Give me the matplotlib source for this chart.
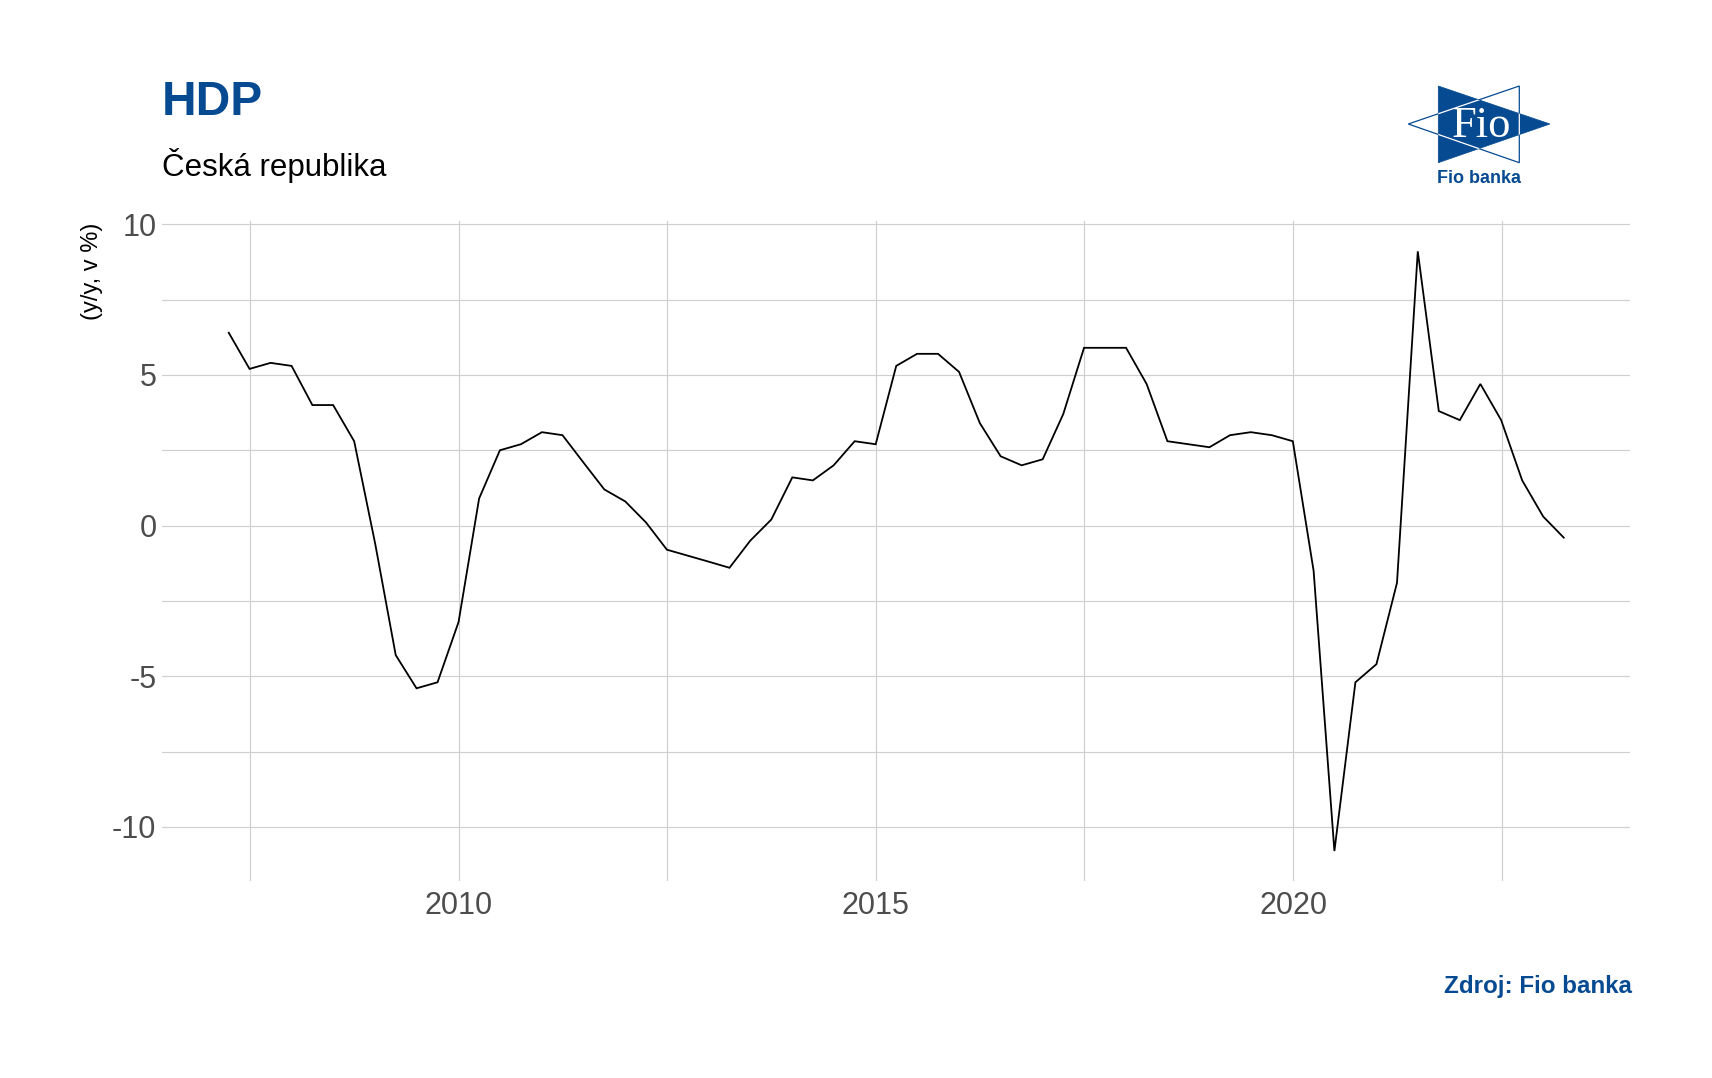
import matplotlib
matplotlib.use("Agg")
import matplotlib.pyplot as plt
import matplotlib.dates as mdates
from matplotlib.patches import Polygon
import pandas as pd

# ---- data (y/y GDP growth, Czech Republic, quarterly 2007Q1 - 2023Q1) ----
first_quarter = "2007Q1"
last_quarter = "2023Q1"
gdp_yy = [
    6.4, 5.2, 5.4, 5.3,      # 2007
    4.0, 4.0, 2.8, -0.6,     # 2008
    -4.3, -5.4, -5.2, -3.2,  # 2009
    0.9, 2.5, 2.7, 3.1,      # 2010
    3.0, 2.1, 1.2, 0.8,      # 2011
    0.1, -0.8, -1.0, -1.2,   # 2012
    -1.4, -0.5, 0.2, 1.6,    # 2013
    1.5, 2.0, 2.8, 2.7,      # 2014
    5.3, 5.7, 5.7, 5.1,      # 2015
    3.4, 2.3, 2.0, 2.2,      # 2016
    3.7, 5.9, 5.9, 5.9,      # 2017
    4.7, 2.8, 2.7, 2.6,      # 2018
    3.0, 3.1, 3.0, 2.8,      # 2019
    -1.5, -10.8, -5.2, -4.6, # 2020
    -1.9, 9.1, 3.8, 3.5,     # 2021
    4.7, 3.5, 1.5, 0.3,      # 2022
    -0.4,                    # 2023
]
y_ticks = [-10, -5, 0, 5, 10]
y_minor = [-7.5, -2.5, 2.5, 7.5]
x_major_years = [2010, 2015, 2020]
x_minor_years = [2007, 2012, 2017, 2022]  # mid-year minor grid

title = "HDP"
subtitle = "Česká republika"
y_label = "(y/y, v %)"
source = "Zdroj: Fio banka"

dates = pd.period_range(first_quarter, last_quarter, freq="Q").end_time.normalize()

BLUE = "#064a91"
GRID = "#cfcfcf"

plt.rcParams["font.family"] = ["Liberation Sans", "DejaVu Sans"]

W, H = 1712, 1078
fig = plt.figure(figsize=(W / 100, H / 100), dpi=100)
fig.patch.set_facecolor("white")

ax = fig.add_axes([162 / W, 1 - 881 / H, (1630.5 - 162) / W, (881 - 221.4) / H])
ax.plot(dates, gdp_yy, color="black", lw=1.3, solid_joinstyle="miter")
ax.margins(x=0.05, y=0.05)

ax.set_yticks(y_ticks)
ax.set_yticks(y_minor, minor=True)
ax.set_yticklabels([str(v) for v in y_ticks])
ax.set_xticks([pd.Timestamp(f"{y}-01-01") for y in x_major_years])
ax.set_xticks([pd.Timestamp(f"{y}-07-02") for y in x_minor_years], minor=True)
ax.xaxis.set_major_formatter(mdates.DateFormatter("%Y"))

ax.grid(True, which="major", color=GRID, lw=0.85)
ax.grid(True, which="minor", color=GRID, lw=0.85)
ax.set_axisbelow(True)
for s in ax.spines.values():
    s.set_visible(False)
ax.tick_params(which="both", length=0)
ax.tick_params(axis="y", labelsize=22, labelcolor="#4d4d4d", pad=4)
ax.tick_params(axis="x", labelsize=22, labelcolor="#4d4d4d", pad=7)

# titles
fig.text(162 / W, 1 - 115 / H, title, fontsize=34.5, fontweight="bold",
         color=BLUE, ha="left", va="baseline")
fig.text(162 / W, 1 - 176 / H, subtitle, fontsize=22.5, color="black",
         ha="left", va="baseline")
fig.text(91.7 / W, 1 - 222.7 / H, y_label, fontsize=17, color="black",
         rotation=90, ha="center", va="top")
fig.text(1632 / W, 1 - 993 / H, source, fontsize=17.4, fontweight="bold",
         color=BLUE, ha="right", va="baseline")

# logo (pixel-coordinate overlay)
lax = fig.add_axes([0, 0, 1, 1])
lax.set_xlim(0, W)
lax.set_ylim(H, 0)
lax.axis("off")
lax.patch.set_alpha(0)
left_tri = [(1408.3, 124), (1519.3, 86), (1519.3, 162.7)]
right_tri = [(1438.3, 86), (1438.3, 162.7), (1550, 124)]
outline = Polygon(left_tri, closed=True, fill=False, edgecolor=BLUE, lw=0.9, zorder=1)
lax.add_patch(outline)
filled = Polygon(right_tri, closed=True, facecolor=BLUE, edgecolor=BLUE, lw=0.5, zorder=2)
lax.add_patch(filled)
outline_w = Polygon(left_tri, closed=True, fill=False, edgecolor="white", lw=0.9, zorder=3)
lax.add_patch(outline_w)
outline_w.set_clip_path(filled)
lax.text(1481, 126, "Fio", fontsize=32, color="white", family=["Liberation Serif", "DejaVu Serif"],
         ha="center", va="center", zorder=4)
lax.text(1479, 178.5, "Fio banka", fontsize=13, fontweight="bold", color=BLUE,
         ha="center", va="center", zorder=4)

fig.savefig("out.png", dpi=100, facecolor="white")
